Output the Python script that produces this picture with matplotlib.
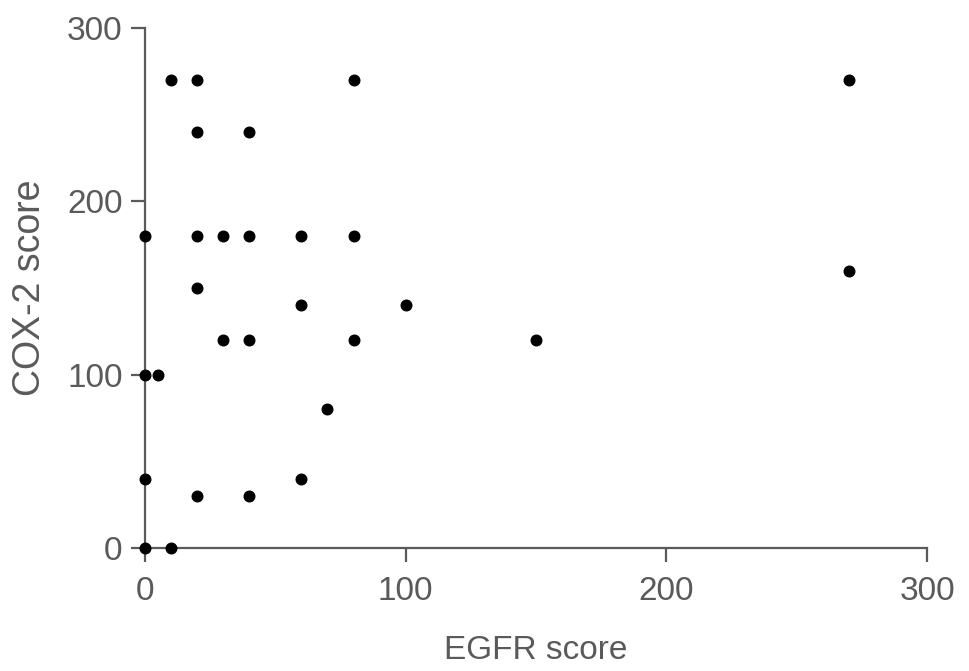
import matplotlib.pyplot as plt

egfr = [10, 20, 80, 270, 20, 40, 0, 20, 30, 40, 60, 80, 270, 20, 60, 100,
        30, 40, 80, 150, 0, 5, 70, 0, 60, 20, 40, 0, 10]
cox2 = [270, 270, 270, 270, 240, 240, 180, 180, 180, 180, 180, 180, 160, 150, 140, 140,
        120, 120, 120, 120, 100, 100, 80, 40, 40, 30, 30, 0, 0]

ticks = [0, 100, 200, 300]
grey = '#5a5a5a'

plt.rcParams['font.family'] = ['Liberation Sans', 'DejaVu Sans']

fig = plt.figure(figsize=(9.69, 6.71), dpi=100)
ax = fig.add_axes([0.1496, 0.1833, 0.8071, 0.775])

ax.scatter(egfr, cox2, s=58, color='black', zorder=3, clip_on=False)

ax.set_xlim(0, 300)
ax.set_ylim(0, 300)
ax.set_xticks(ticks)
ax.set_yticks(ticks)

for side in ['top', 'right']:
    ax.spines[side].set_visible(False)
for side in ['left', 'bottom']:
    ax.spines[side].set_color(grey)
    ax.spines[side].set_linewidth(1.6)

ax.tick_params(direction='out', length=10, width=1.6, color=grey,
               labelsize=24, labelcolor=grey)
ax.tick_params(axis='x', pad=10)
ax.tick_params(axis='y', pad=6)
ax.set_xlabel('EGFR score', fontsize=24, color=grey, labelpad=20)
ax.set_ylabel('COX-2 score', fontsize=27, color=grey, labelpad=14)

fig.savefig('out.png', dpi=100)
